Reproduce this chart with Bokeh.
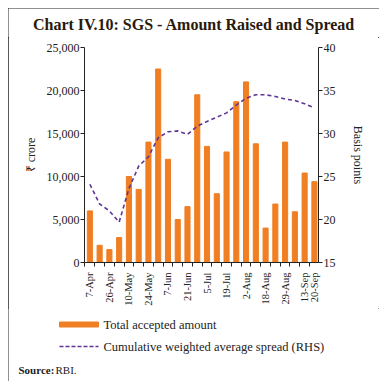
from bokeh.plotting import figure
from bokeh.models import (Range1d, LinearAxis, FixedTicker, NumeralTickFormatter,
                          ColumnDataSource)
from bokeh.layouts import column
from bokeh.core.properties import value
from bokeh.embed import file_html
from bokeh.resources import INLINE

dates = ["7-Apr", "13-Apr", "26-Apr", "4-May", "10-May", "18-May", "24-May", "31-May",
         "7-Jun", "14-Jun", "21-Jun", "28-Jun", "5-Jul", "12-Jul", "19-Jul", "26-Jul",
         "2-Aug", "10-Aug", "18-Aug", "24-Aug", "29-Aug", "6-Sep", "13-Sep", "20-Sep"]
shown_labels = ["7-Apr", "26-Apr", "10-May", "24-May", "7-Jun", "21-Jun", "5-Jul",
                "19-Jul", "2-Aug", "18-Aug", "29-Aug", "13-Sep", "20-Sep"]
amount = [6000, 2000, 1500, 2900, 10000, 8500, 14000, 22500, 12000, 5000, 6500, 19500,
          13500, 8000, 12850, 18700, 21000, 13800, 4000, 6800, 14000, 5900, 10400, 9400]
spread = [24.1, 21.8, 21.0, 19.7, 23.6, 26.2, 27.3, 29.5, 30.2, 30.3, 29.9, 30.85,
          31.4, 31.9, 32.4, 33.3, 34.1, 34.5, 34.5, 34.3, 34.0, 33.85, 33.45, 33.0]
left_ticks = [0, 5000, 10000, 15000, 20000, 25000]
right_ticks = [15, 20, 25, 30, 35, 40]
title_text = "Chart IV.10: SGS - Amount Raised and Spread"
legend_labels = ["Total accepted amount", "Cumulative weighted average spread (RHS)"]

ORANGE = "#F07E22"
PURPLE = "#5F3594"
FONT = "Liberation Serif"
INK = "#222222"
W = 371


def blank_fig(height, y0):
    f = figure(width=W, height=height, output_backend="svg", toolbar_location=None,
               x_range=Range1d(0, W), y_range=Range1d(y0 + height, y0),
               x_axis_location=None, y_axis_location=None,
               min_border=0, min_border_left=0, min_border_right=0,
               min_border_top=0, min_border_bottom=0, frame_align=False)
    f.grid.visible = False
    f.outline_line_color = None
    f.background_fill_color = "white"
    f.border_fill_color = "white"
    return f


# ---- title strip (rows 0..29 of the chart box)
top = blank_fig(29, 0)
top.text(x=[185.5], y=[16], text=[title_text], text_font=value(FONT),
         text_font_size="16px", text_font_style="bold", text_color="#2a1a0a",
         text_align="center", text_baseline="middle")

# ---- main chart
xs = list(range(len(dates)))
src = ColumnDataSource(dict(x=xs, amount=amount, spread=spread))

p = figure(width=W, height=271, output_backend="svg", toolbar_location=None,
           x_range=Range1d(-0.55, 23.42), y_range=Range1d(0, 25000),
           min_border_left=76, min_border_right=61, min_border_top=10,
           min_border_bottom=46, frame_align=False)
p.grid.visible = False
p.outline_line_color = None
p.background_fill_color = "white"
p.border_fill_color = "white"
p.extra_y_ranges = {"bp": Range1d(15, 40)}

p.vbar(x="x", top="amount", width=0.52, color=ORANGE, source=src)
p.line(x="x", y="spread", y_range_name="bp", line_color=PURPLE, line_width=1.6,
       line_dash="4 3", source=src)

xa = p.xaxis[0]
label_pos = [dates.index(d) for d in shown_labels]
xa.ticker = FixedTicker(ticks=label_pos, minor_ticks=[i - 0.5 for i in range(len(dates) + 1)])
xa.major_label_overrides = {i: dates[i] for i in label_pos}
xa.major_label_orientation = 1.5708
xa.major_tick_out = 0
xa.major_tick_in = 0
xa.minor_tick_out = 4
xa.minor_tick_in = 0
xa.major_label_standoff = 6
xa.major_label_text_font = FONT
xa.major_label_text_font_size = "10.5px"
xa.major_label_text_color = INK
xa.axis_line_color = INK
xa.minor_tick_line_color = INK

ya = p.yaxis[0]
ya.ticker = FixedTicker(ticks=left_ticks)
ya.formatter = NumeralTickFormatter(format="0,0")
ya.axis_label = "₹ crore"

ra = LinearAxis(y_range_name="bp", ticker=FixedTicker(ticks=right_ticks),
                axis_label="Basis points")
p.add_layout(ra, "right")

for ax in [ya, ra]:
    ax.minor_tick_line_color = None
    ax.major_tick_out = 4
    ax.major_tick_in = 0
    ax.major_label_standoff = 1
    ax.major_label_text_font = FONT
    ax.major_label_text_font_size = "12px"
    ax.major_label_text_color = INK
    ax.axis_label_text_font = FONT
    ax.axis_label_text_font_size = "12px"
    ax.axis_label_text_font_style = "normal"
    ax.axis_label_text_color = INK
    ax.axis_line_color = INK
    ax.major_tick_line_color = INK
ya.axis_label_standoff = 6
ra.axis_label_standoff = 12

# ---- legend + source strip (rows 300..373 of the chart box)
bot = blank_fig(73, 300)
bot.quad(left=[51], right=[90], top=[313.5], bottom=[318.5], color=ORANGE)
bot.line(x=[51, 90], y=[338, 338], line_color=PURPLE, line_width=1.6, line_dash="4 2")
bot.text(x=[95, 95], y=[316, 338], text=legend_labels, text_font=value(FONT),
         text_font_size="12.5px", text_color=INK, text_baseline="middle")
bot.text(x=[10], y=[361], text=["Source:"], text_font=value(FONT),
         text_font_size="11px", text_font_style="bold", text_color=INK,
         text_baseline="middle")
bot.text(x=[47], y=[361], text=["RBI."], text_font=value(FONT),
         text_font_size="11px", text_color=INK, text_baseline="middle")

layout = column(top, p, bot, spacing=0)
layout.styles = {"margin": "8px", "outline": "1.5px solid #222", "outline-offset": "-1px"}

open("out.html", "w").write(file_html(layout, INLINE))
